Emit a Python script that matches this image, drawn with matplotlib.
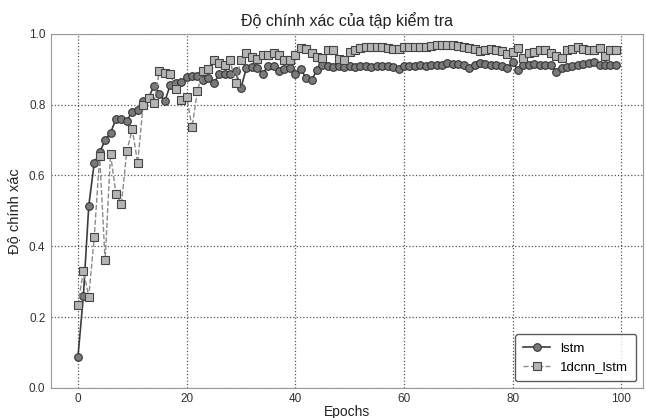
import numpy as np
import matplotlib.pyplot as plt

plt.rcParams['font.family'] = ['Liberation Sans', 'DejaVu Sans']

epochs = list(range(100))

lstm = [0.087, 0.26, 0.515, 0.635, 0.665, 0.70, 0.72, 0.76, 0.76, 0.755,
        0.78, 0.785, 0.81, 0.82, 0.853, 0.83, 0.81, 0.856, 0.86, 0.865,
        0.877, 0.882, 0.88, 0.87, 0.875, 0.86, 0.886, 0.886, 0.888, 0.894,
        0.847, 0.903, 0.905, 0.903, 0.887, 0.91, 0.91, 0.894, 0.90, 0.903,
        0.886, 0.90, 0.875, 0.87, 0.898, 0.912, 0.908, 0.906, 0.908, 0.905,
        0.908, 0.907, 0.909, 0.908, 0.906, 0.909, 0.91, 0.908, 0.906, 0.90,
        0.908, 0.909, 0.91, 0.912, 0.91, 0.911, 0.913, 0.912, 0.917, 0.916,
        0.914, 0.912, 0.903, 0.912, 0.917, 0.914, 0.912, 0.913, 0.91, 0.903,
        0.92, 0.897, 0.912, 0.913, 0.914, 0.912, 0.913, 0.912, 0.893, 0.903,
        0.906, 0.909, 0.912, 0.915, 0.918, 0.92, 0.912, 0.911, 0.912, 0.912]

cnn_lstm = [0.234, 0.33, 0.258, 0.425, 0.655, 0.36, 0.66, 0.548, 0.52, 0.67,
            0.73, 0.635, 0.80, 0.818, 0.806, 0.895, 0.89, 0.886, 0.844, 0.814,
            0.823, 0.736, 0.84, 0.894, 0.90, 0.927, 0.919, 0.912, 0.925, 0.862,
            0.925, 0.945, 0.936, 0.93, 0.94, 0.94, 0.947, 0.94, 0.925, 0.925,
            0.94, 0.96, 0.958, 0.945, 0.936, 0.931, 0.955, 0.955, 0.93, 0.927,
            0.95, 0.955, 0.961, 0.962, 0.962, 0.962, 0.962, 0.96, 0.958, 0.958,
            0.964, 0.963, 0.962, 0.962, 0.964, 0.965, 0.968, 0.969, 0.968, 0.969,
            0.967, 0.964, 0.96, 0.958, 0.952, 0.955, 0.958, 0.955, 0.952, 0.942,
            0.95, 0.96, 0.931, 0.945, 0.95, 0.954, 0.955, 0.947, 0.938, 0.931,
            0.954, 0.958, 0.962, 0.958, 0.955, 0.954, 0.96, 0.938, 0.954, 0.954]

fig, ax = plt.subplots(figsize=(6.46, 4.18), dpi=100)
fig.subplots_adjust(left=0.079, right=0.995, top=0.919, bottom=0.072)

ax.plot(epochs, lstm, '-o', color='#3c3c3c', lw=1.2,
        markersize=5.5, markerfacecolor='#7a7a7a', markeredgecolor='#333333',
        markeredgewidth=0.8, label='lstm')
ax.plot(epochs, cnn_lstm, '--s', color='#8a8a8a', lw=1.0,
        markersize=5.5, markerfacecolor='#b4b4b4', markeredgecolor='#444444',
        markeredgewidth=0.8, label='1dcnn_lstm')

ax.set_ylim(0.0, 1.0)
ax.set_xticks([0, 20, 40, 60, 80, 100])
ax.set_yticks([0.0, 0.2, 0.4, 0.6, 0.8, 1.0])
ax.grid(True, linestyle=':', color='#555555', lw=0.9)
ax.tick_params(length=0, labelsize=8.5, labelcolor='#333333', pad=4)
for s in ax.spines.values():
    s.set_color('#999999')
    s.set_linewidth(0.8)

ax.set_title('Độ chính xác của tập kiểm tra', fontsize=11.5, color='#222222')
ax.set_xlabel('Epochs', fontsize=10, color='#222222', labelpad=0)
ax.set_ylabel('Độ chính xác', fontsize=10.5, color='#222222', labelpad=6)

leg = ax.legend(loc='lower right', fontsize=9.5, frameon=True, fancybox=True,
                edgecolor='#333333', borderpad=0.6)
leg.get_frame().set_linewidth(1.0)

fig.savefig('out.png', dpi=100)
